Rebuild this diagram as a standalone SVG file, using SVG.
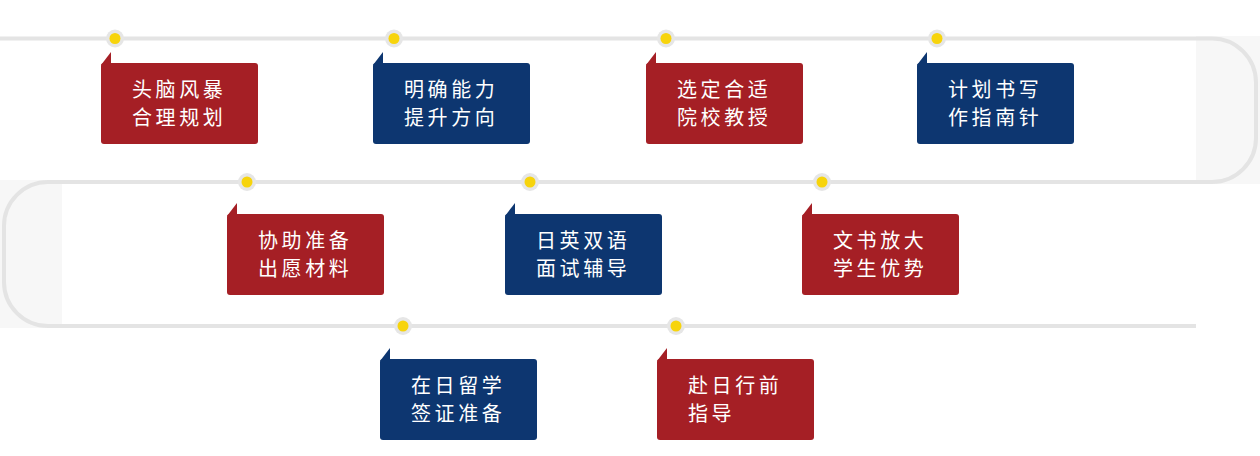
<svg xmlns="http://www.w3.org/2000/svg" width="1260" height="456" viewBox="0 0 1260 456">
<style>
.bg{fill:#f7f7f7}
.track{fill:none;stroke:#e4e4e4;stroke-width:4}
.ring{fill:#e6e6e6}
.dot{fill:#f7d40c}
.red{fill:#a51f25}
.blue{fill:#0d3670}
.t{font-family:"Noto Sans CJK SC","Noto Sans",sans-serif;font-size:20px;letter-spacing:3.6px;fill:#ffffff}
</style>
<rect class="bg" x="1196" y="36" width="64" height="148"/>
<rect class="bg" x="0" y="180" width="62" height="148"/>
<g id="connectors">
<path class="track" d="M0,38.5 H1212 A44,44 0 0 1 1256,82.5 V138 A44,44 0 0 1 1212,182 H48 A44,44 0 0 0 4,226 V282 A44,44 0 0 0 48,326 H1196"/>
</g>
<g id="dots">
<circle class="ring" cx="115" cy="38.5" r="9"/><circle class="dot" cx="115" cy="38.5" r="5.5"/>
<circle class="ring" cx="394" cy="38.5" r="9"/><circle class="dot" cx="394" cy="38.5" r="5.5"/>
<circle class="ring" cx="666" cy="38.5" r="9"/><circle class="dot" cx="666" cy="38.5" r="5.5"/>
<circle class="ring" cx="937" cy="38.5" r="9"/><circle class="dot" cx="937" cy="38.5" r="5.5"/>
<circle class="ring" cx="247" cy="182" r="9"/><circle class="dot" cx="247" cy="182" r="5.5"/>
<circle class="ring" cx="530" cy="182" r="9"/><circle class="dot" cx="530" cy="182" r="5.5"/>
<circle class="ring" cx="822" cy="182" r="9"/><circle class="dot" cx="822" cy="182" r="5.5"/>
<circle class="ring" cx="403" cy="326" r="9"/><circle class="dot" cx="403" cy="326" r="5.5"/>
<circle class="ring" cx="676" cy="326" r="9"/><circle class="dot" cx="676" cy="326" r="5.5"/>
</g>
<g id="n1" transform="translate(101,63)"><polygon class="red" points="0,2 10,-11 10,1"/><rect class="red" width="157" height="81" rx="3"/><text class="t" x="31" y="34">头脑风暴</text><text class="t" x="31" y="62">合理规划</text></g>
<g id="n2" transform="translate(373,63)"><polygon class="blue" points="0,2 10,-11 10,1"/><rect class="blue" width="157" height="81" rx="3"/><text class="t" x="31" y="34">明确能力</text><text class="t" x="31" y="62">提升方向</text></g>
<g id="n3" transform="translate(646,63)"><polygon class="red" points="0,2 10,-11 10,1"/><rect class="red" width="157" height="81" rx="3"/><text class="t" x="31" y="34">选定合适</text><text class="t" x="31" y="62">院校教授</text></g>
<g id="n4" transform="translate(917,63)"><polygon class="blue" points="0,2 10,-11 10,1"/><rect class="blue" width="157" height="81" rx="3"/><text class="t" x="31" y="34">计划书写</text><text class="t" x="31" y="62">作指南针</text></g>
<g id="n5" transform="translate(227,214)"><polygon class="red" points="0,2 10,-11 10,1"/><rect class="red" width="157" height="81" rx="3"/><text class="t" x="31" y="34">协助准备</text><text class="t" x="31" y="62">出愿材料</text></g>
<g id="n6" transform="translate(505,214)"><polygon class="blue" points="0,2 10,-11 10,1"/><rect class="blue" width="157" height="81" rx="3"/><text class="t" x="31" y="34">日英双语</text><text class="t" x="31" y="62">面试辅导</text></g>
<g id="n7" transform="translate(802,214)"><polygon class="red" points="0,2 10,-11 10,1"/><rect class="red" width="157" height="81" rx="3"/><text class="t" x="31" y="34">文书放大</text><text class="t" x="31" y="62">学生优势</text></g>
<g id="n8" transform="translate(380,359)"><polygon class="blue" points="0,2 10,-11 10,1"/><rect class="blue" width="157" height="81" rx="3"/><text class="t" x="31" y="34">在日留学</text><text class="t" x="31" y="62">签证准备</text></g>
<g id="n9" transform="translate(657,359)"><polygon class="red" points="0,2 10,-11 10,1"/><rect class="red" width="157" height="81" rx="3"/><text class="t" x="31" y="34">赴日行前</text><text class="t" x="31" y="62">指导</text></g>
</svg>
